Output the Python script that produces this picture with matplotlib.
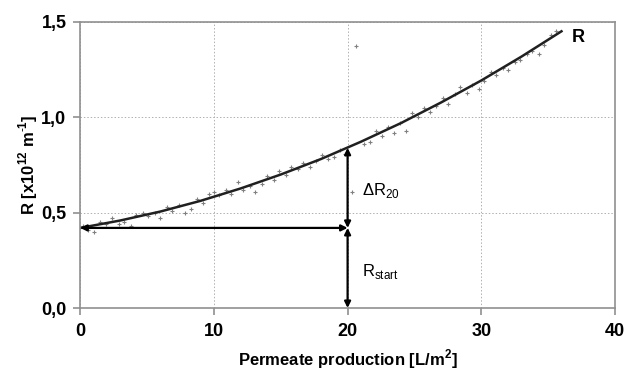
import matplotlib.pyplot as plt
from matplotlib.ticker import FuncFormatter

# measured points (permeate production [L/m2], resistance [1e12 1/m])
prod = [0.2, 0.6, 1.0, 1.5, 1.9, 2.4, 2.9, 3.3, 3.8, 4.2, 4.7, 5.1, 5.6, 6.0,
        6.5, 6.9, 7.4, 7.8, 8.3, 8.7, 9.2, 9.6, 10.0, 10.4, 10.9, 11.3, 11.8,
        12.2, 12.7, 13.1, 13.6, 14.0, 14.5, 14.9, 15.4, 15.8, 16.3, 16.7, 17.2,
        17.6, 18.1, 18.5, 19.0, 19.4, 19.8, 20.3, 20.6, 21.2, 21.7, 22.1, 22.6,
        23.0, 23.5, 23.9, 24.4, 24.8, 25.3, 25.7, 26.2, 26.6, 27.1, 27.5, 28.0,
        28.4, 28.9, 29.3, 29.8, 30.2, 30.7, 31.1, 31.6, 32.0, 32.5, 32.9, 33.4,
        33.8, 34.3, 34.7, 35.2, 35.6]
resist = [0.43, 0.41, 0.40, 0.45, 0.44, 0.47, 0.44, 0.45, 0.43, 0.49, 0.50, 0.48,
          0.50, 0.47, 0.53, 0.51, 0.54, 0.50, 0.52, 0.57, 0.55, 0.60, 0.61, 0.59,
          0.62, 0.60, 0.66, 0.62, 0.64, 0.61, 0.65, 0.69, 0.67, 0.72, 0.70, 0.74,
          0.73, 0.76, 0.74, 0.77, 0.80, 0.78, 0.79, 0.83, 0.81, 0.61, 1.375, 0.86,
          0.87, 0.93, 0.90, 0.95, 0.92, 0.97, 0.93, 1.02, 1.00, 1.05, 1.03, 1.06,
          1.10, 1.07, 1.12, 1.16, 1.13, 1.17, 1.15, 1.19, 1.24, 1.22, 1.26, 1.25,
          1.29, 1.30, 1.33, 1.35, 1.33, 1.38, 1.43, 1.45]

# fitted curve
fit_x = [0, 3, 6, 9, 12, 15, 18, 21, 24, 27, 30, 33, 36]
fit_y = [0.42, 0.459, 0.506, 0.562, 0.627, 0.700, 0.781, 0.872, 0.970,
         1.078, 1.193, 1.318, 1.451]

r_start = 0.42
r_20 = 0.84
x_mark = 20

plt.rcParams['font.family'] = ['Liberation Sans', 'DejaVu Sans']
plt.rcParams['mathtext.fontset'] = 'custom'
plt.rcParams['mathtext.rm'] = 'Liberation Sans'
plt.rcParams['mathtext.bf'] = 'Liberation Sans:bold'

fig = plt.figure(figsize=(6.32, 3.72), dpi=100)
ax = fig.add_axes([0.127, 0.172, 0.846, 0.769])

ax.plot(prod, resist, linestyle='none', marker='+', markersize=3,
        markeredgewidth=0.8, color='#808080')
ax.plot(fit_x, fit_y, color='#202020', linewidth=1.8)

arrow = dict(arrowstyle='<|-|>', color='black', lw=1.6,
             mutation_scale=9, shrinkA=0, shrinkB=0)
ax.annotate('', xy=(0, r_start), xytext=(x_mark, r_start), arrowprops=arrow)
ax.annotate('', xy=(x_mark, 0), xytext=(x_mark, r_start), arrowprops=arrow)
ax.annotate('', xy=(x_mark, r_20), xytext=(x_mark, r_start), arrowprops=arrow)

ax.text(21.1, 0.615, r'$\Delta$R$_{\mathrm{20}}$', fontsize=12, va='center')
ax.text(21.1, 0.19, r'R$_{\mathrm{start}}$', fontsize=12, va='center')
ax.text(36.8, 1.42, 'R', fontsize=13, fontweight='bold', va='center')

ax.set_xlim(0, 40)
ax.set_ylim(0, 1.5)
ax.set_xticks([0, 10, 20, 30, 40])
ax.set_yticks([0, 0.5, 1.0, 1.5])
ax.yaxis.set_major_formatter(FuncFormatter(lambda v, p: f'{v:.1f}'.replace('.', ',')))
ax.grid(True, color='#b0b0b0', linestyle=(0, (1.5, 2)), linewidth=0.7)
for s in ax.spines.values():
    s.set_color('#909090')
    s.set_linewidth(1.2)
ax.tick_params(direction='out', length=5, color='#909090', width=1.2,
               labelsize=13, pad=6)
ax.tick_params(axis='y', pad=5)
for lab in ax.get_xticklabels() + ax.get_yticklabels():
    lab.set_fontweight('bold')

ax.set_xlabel(r'Permeate production [L/m$^{\mathbf{2}}$]', fontsize=12,
              fontweight='heavy', labelpad=5)
ax.set_ylabel(r'R [x10$^{\mathbf{12}}$ m$^{\mathbf{\text{-}1}}$]', fontsize=12,
              fontweight='bold', labelpad=1)

fig.savefig('out.png', dpi=100)
